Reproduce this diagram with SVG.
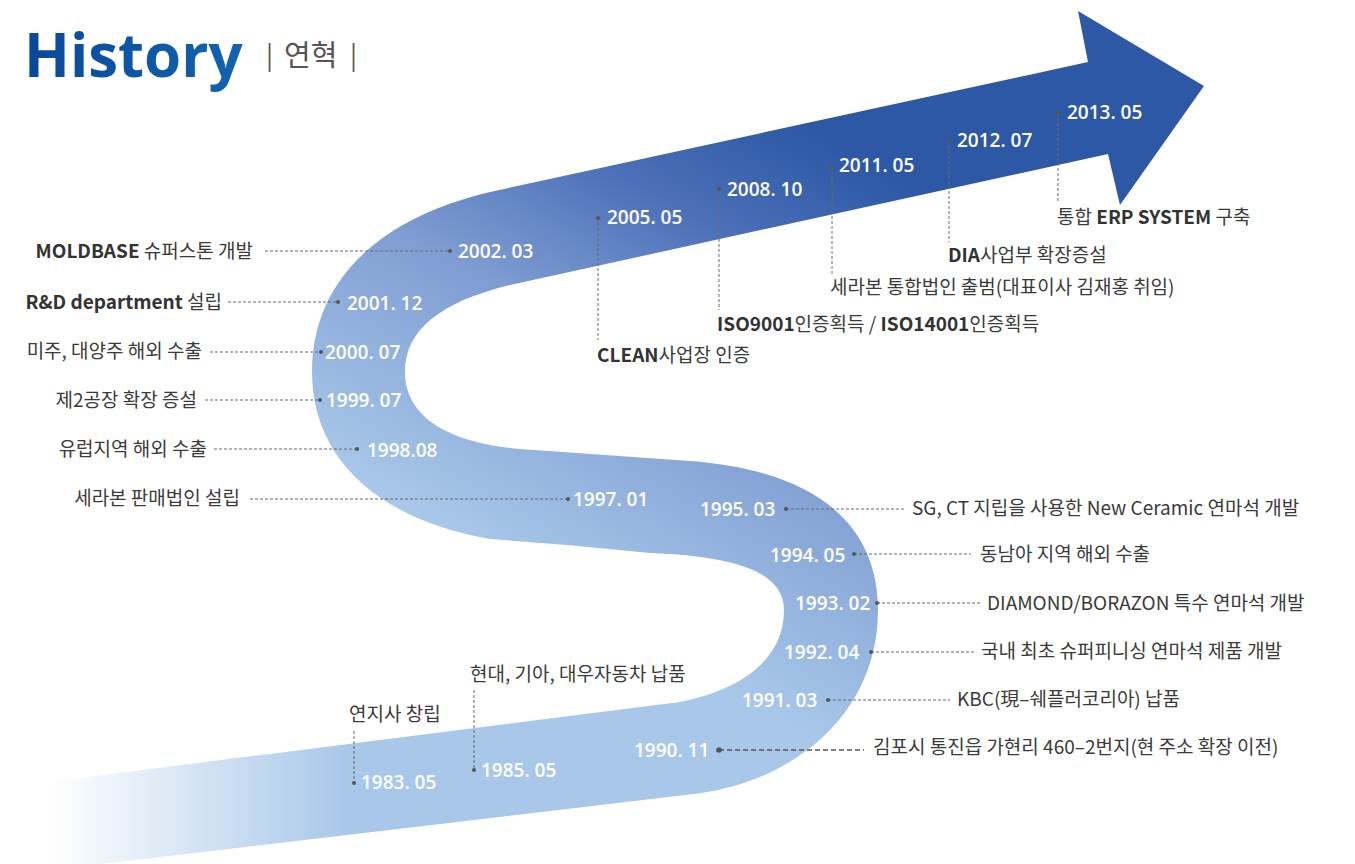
<svg xmlns="http://www.w3.org/2000/svg" width="1355" height="864" viewBox="0 0 1355 864">
<defs>
<linearGradient id="bandGrad" gradientUnits="userSpaceOnUse" x1="500" y1="560" x2="760" y2="100">
<stop offset="0" stop-color="#a8c7e9"/>
<stop offset="0.45" stop-color="#7f9dd2"/>
<stop offset="0.75" stop-color="#4c6fb8"/>
<stop offset="1" stop-color="#2c58a5"/>
</linearGradient>
<linearGradient id="fadeGrad" gradientUnits="userSpaceOnUse" x1="50" y1="0" x2="350" y2="0">
<stop offset="0" stop-color="#ffffff" stop-opacity="1"/>
<stop offset="1" stop-color="#ffffff" stop-opacity="0"/>
</linearGradient>
<linearGradient id="titleGrad" x1="0" y1="0" x2="1" y2="0">
<stop offset="0" stop-color="#0a4898"/>
<stop offset="1" stop-color="#1263b2"/>
</linearGradient>
<style>
.date{font-family:"Open Sans","Noto Sans",sans-serif;font-weight:600;font-size:19px;fill:#ffffff}
.ev{font-family:"Noto Sans CJK KR","Noto Sans",sans-serif;font-size:19px;fill:#3a3a3a}
.b{font-weight:700;fill:#333333}
.dash{stroke:#6a6a6a;stroke-width:1;stroke-dasharray:3 2;fill:none}
.dashb{stroke:#555555;stroke-width:1.5;stroke-dasharray:5 3;fill:none}
.dot{fill:#555555}
.sub{font-family:"Noto Sans CJK KR",sans-serif;fill:#555555}
</style>
</defs>
<rect width="1355" height="864" fill="#ffffff"/>

<g id="title">
<text x="24" y="77" font-family="'Open Sans','Noto Sans',sans-serif" font-weight="700" font-size="60" fill="url(#titleGrad)">History</text>
<text class="sub" x="266" y="65" font-size="26">|</text>
<text class="sub" x="284" y="66" font-size="29">연혁</text>
<text class="sub" x="350" y="65" font-size="26">|</text>
</g>

<g id="timeline-band">
<path fill="url(#bandGrad)" d="M0,788 L680,702 C740,690 784,660 784,610 C784,570 730,556 650,553 L567,545 L490,539 C380,520 312,460 312,372 C312,280 380,218 490,192 L1088,62 L1078,11 L1204,86 L1120,205 L1108,154 L510,285 C440,302 405,330 405,372 C405,412 440,442 520,449 L690,461 C810,470 878,520 878,610 C878,710 800,778 702,793 L0,876 Z"/>
<rect x="0" y="690" width="380" height="174" fill="url(#fadeGrad)"/>
</g>

<g id="connectors">
<line class="dash" x1="265" y1="251" x2="450" y2="251"/>
<line class="dash" x1="228" y1="302" x2="338" y2="302"/>
<line class="dash" x1="210" y1="352" x2="321" y2="352"/>
<line class="dash" x1="205" y1="400" x2="320" y2="400"/>
<line class="dash" x1="214" y1="449" x2="357" y2="449"/>
<line class="dash" x1="250" y1="499" x2="568" y2="499"/>
<line class="dash" x1="786" y1="509" x2="905" y2="509"/>
<line class="dash" x1="854" y1="554" x2="971" y2="554"/>
<line class="dash" x1="877" y1="603" x2="981" y2="603"/>
<line class="dash" x1="871" y1="652" x2="974" y2="652"/>
<line class="dash" x1="828" y1="700" x2="950" y2="700"/>
<line class="dashb" x1="719" y1="750" x2="864" y2="750"/>
<line class="dash" x1="354" y1="731" x2="354" y2="783"/>
<line class="dash" x1="474" y1="690" x2="474" y2="770"/>
<line class="dash" x1="598" y1="218" x2="598" y2="340"/>
<line class="dash" x1="719" y1="189" x2="719" y2="310"/>
<line class="dash" x1="832" y1="166" x2="832" y2="274"/>
<line class="dash" x1="949" y1="141" x2="949" y2="242"/>
<line class="dash" x1="1058" y1="113" x2="1058" y2="202"/>
<circle class="dot" cx="450" cy="251" r="2"/>
<circle class="dot" cx="338" cy="302" r="2"/>
<circle class="dot" cx="321" cy="352" r="2"/>
<circle class="dot" cx="320" cy="400" r="2"/>
<circle class="dot" cx="357" cy="449" r="2"/>
<circle class="dot" cx="568" cy="499" r="2"/>
<circle class="dot" cx="786" cy="509" r="2"/>
<circle class="dot" cx="854" cy="554" r="2"/>
<circle class="dot" cx="877" cy="603" r="2"/>
<circle class="dot" cx="871" cy="652" r="2"/>
<circle class="dot" cx="828" cy="700" r="2"/>
<circle class="dot" cx="719" cy="750" r="2.8"/>
<circle class="dot" cx="354" cy="783" r="2"/>
<circle class="dot" cx="474" cy="770" r="2"/>
<circle class="dot" cx="598" cy="218" r="2"/>
<circle class="dot" cx="719" cy="189" r="2"/>
<circle class="dot" cx="832" cy="166" r="2"/>
<circle class="dot" cx="949" cy="141" r="2"/>
<circle class="dot" cx="1058" cy="113" r="2"/>
</g>

<g id="n1983"><text class="date" x="361" y="789">1983. 05</text><text class="ev" x="349" y="721">연지사 창립</text></g>
<g id="n1985"><text class="date" x="481" y="777">1985. 05</text><text class="ev" x="470" y="681">현대, 기아, 대우자동차 납품</text></g>
<g id="n1990"><text class="date" x="634" y="757">1990. 11</text><text class="ev" x="873" y="754">김포시 통진읍 가현리 460–2번지(현 주소 확장 이전)</text></g>
<g id="n1991"><text class="date" x="742" y="707">1991. 03</text><text class="ev" x="957" y="706">KBC(現–쉐플러코리아) 납품</text></g>
<g id="n1992"><text class="date" x="784" y="659">1992. 04</text><text class="ev" x="981" y="658">국내 최초 슈퍼피니싱 연마석 제품 개발</text></g>
<g id="n1993"><text class="date" x="795" y="610">1993. 02</text><text class="ev" x="987" y="610">DIAMOND/BORAZON 특수 연마석 개발</text></g>
<g id="n1994"><text class="date" x="770" y="562">1994. 05</text><text class="ev" x="980" y="561">동남아 지역 해외 수출</text></g>
<g id="n1995"><text class="date" x="700" y="516">1995. 03</text><text class="ev" x="912" y="515">SG, CT 지립을 사용한 New Ceramic 연마석 개발</text></g>
<g id="n1997"><text class="date" x="573" y="506">1997. 01</text><text class="ev" x="240" y="505" text-anchor="end">세라본 판매법인 설립</text></g>
<g id="n1998"><text class="date" x="367" y="457">1998.08</text><text class="ev" x="207" y="456" text-anchor="end">유럽지역 해외 수출</text></g>
<g id="n1999"><text class="date" x="326" y="407">1999. 07</text><text class="ev" x="197" y="407" text-anchor="end">제2공장 확장 증설</text></g>
<g id="n2000"><text class="date" x="325" y="359">2000. 07</text><text class="ev" x="202" y="358" text-anchor="end">미주, 대양주 해외 수출</text></g>
<g id="n2001"><text class="date" x="347" y="310">2001. 12</text><text class="ev" x="222" y="309" text-anchor="end"><tspan class="b">R&amp;D department</tspan> 설립</text></g>
<g id="n2002"><text class="date" x="458" y="258">2002. 03</text><text class="ev" x="253" y="258" text-anchor="end"><tspan class="b">MOLDBASE</tspan> 슈퍼스톤 개발</text></g>
<g id="n2005"><text class="date" x="607" y="224">2005. 05</text><text class="ev" x="597" y="362"><tspan class="b">CLEAN</tspan>사업장 인증</text></g>
<g id="n2008"><text class="date" x="727" y="196">2008. 10</text><text class="ev" x="717" y="331"><tspan class="b">ISO9001</tspan>인증획득 / <tspan class="b">ISO14001</tspan>인증획득</text></g>
<g id="n2011"><text class="date" x="839" y="172">2011. 05</text><text class="ev" x="830" y="294">세라본 통합법인 출범(대표이사 김재홍 취임)</text></g>
<g id="n2012"><text class="date" x="957" y="147">2012. 07</text><text class="ev" x="948" y="262"><tspan class="b">DIA</tspan>사업부 확장증설</text></g>
<g id="n2013"><text class="date" x="1067" y="119">2013. 05</text><text class="ev" x="1057" y="224">통합 <tspan class="b">ERP SYSTEM</tspan> 구축</text></g>
</svg>
